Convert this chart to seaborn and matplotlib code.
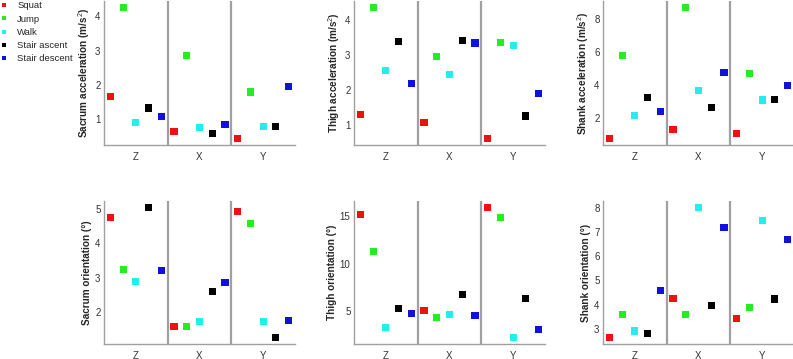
import numpy as np
import pandas as pd
import matplotlib
matplotlib.use('Agg')
import matplotlib.pyplot as plt
from matplotlib.ticker import MultipleLocator
import seaborn as sns

activities = ['Squat', 'Jump', 'Walk', 'Stair ascent', 'Stair descent']
axes_names = ['Z', 'X', 'Y']

# values per activity, ordered Z, X, Y
sacrum_acc = {'Squat': [1.66, 0.64, 0.43], 'Jump': [4.26, 2.87, 1.79], 'Walk': [0.91, 0.74, 0.79],
              'Stair ascent': [1.32, 0.57, 0.79], 'Stair descent': [1.08, 0.83, 1.94]}
thigh_acc = {'Squat': [1.31, 1.09, 0.63], 'Jump': [4.36, 2.96, 3.37], 'Walk': [2.57, 2.44, 3.27],
             'Stair ascent': [3.39, 3.42, 1.27], 'Stair descent': [2.19, 3.35, 1.90]}
shank_acc = {'Squat': [0.79, 1.35, 1.09], 'Jump': [5.78, 8.68, 4.68], 'Walk': [2.16, 3.66, 3.11],
             'Stair ascent': [3.27, 2.66, 3.15], 'Stair descent': [2.40, 4.79, 4.00]}
sacrum_ori = {'Squat': [4.75, 1.58, 4.91], 'Jump': [3.23, 1.59, 4.56], 'Walk': [2.88, 1.74, 1.74],
              'Stair ascent': [5.03, 2.61, 1.27], 'Stair descent': [3.20, 2.87, 1.77]}
thigh_ori = {'Squat': [15.2, 5.03, 15.95], 'Jump': [11.27, 4.33, 14.85], 'Walk': [3.28, 4.58, 2.18],
             'Stair ascent': [5.24, 6.69, 6.32], 'Stair descent': [4.71, 4.54, 2.99]}
shank_ori = {'Squat': [2.63, 4.26, 3.41], 'Jump': [3.57, 3.60, 3.89], 'Walk': [2.90, 8.03, 7.50],
             'Stair ascent': [2.81, 3.97, 4.23], 'Stair descent': [4.60, 7.19, 6.69]}

panels = [
    (sacrum_acc, 'Sacrum acceleration (m/s$^2$)', 1),
    (thigh_acc, 'Thigh acceleration (m/s$^2$)', 1),
    (shank_acc, 'Shank acceleration (m/s$^2$)', 2),
    (sacrum_ori, 'Sacrum orientation (°)', 1),
    (thigh_ori, 'Thigh orientation (°)', 5),
    (shank_ori, 'Shank orientation (°)', 1),
]

palette = {'Squat': '#ee1111', 'Jump': '#22ee22', 'Walk': '#22eeee',
           'Stair ascent': '#000000', 'Stair descent': '#1111dd'}

sns.set_style('white')
plt.rcParams['font.family'] = ['Liberation Sans', 'DejaVu Sans']
plt.rcParams['mathtext.fontset'] = 'custom'
plt.rcParams['mathtext.rm'] = 'Liberation Sans'
plt.rcParams['mathtext.bf'] = 'Liberation Sans:bold'

fig = plt.figure(figsize=(7.93, 3.59), dpi=100)
lefts = [104 / 793, 354 / 793, 603 / 793]
w = 191 / 793
rows = [(1 - 145 / 359, 144 / 359), (1 - 344 / 359, 143 / 359)]

offsets = {a: -0.4 + 0.2 * i for i, a in enumerate(activities)}

for k, (vals, label, step) in enumerate(panels):
    b, h = rows[k // 3]
    ax = fig.add_axes([lefts[k % 3], b, w, h])
    df = pd.DataFrame([
        {'activity': a, 'pos': j + 1 + offsets[a], 'value': vals[a][j]}
        for a in activities for j in range(3)
    ])
    sns.scatterplot(data=df, x='pos', y='value', hue='activity', hue_order=activities,
                    palette=palette, marker='s', s=26, linewidth=0, ax=ax,
                    legend=(k == 0))
    for xv in [1.5, 2.5]:
        ax.axvline(xv, color='#a0a0a0', lw=1.6, zorder=0)
    ax.set_xlim(0.5, 3.5)
    ax.set_xticks([1, 2, 3])
    ax.set_xticklabels(axes_names)
    ax.yaxis.set_major_locator(MultipleLocator(step))
    ax.set_xlabel('')
    ax.set_ylabel(label, fontsize=7.2, fontweight='bold', color='#262626', labelpad=2)
    sns.despine(ax=ax)
    for sp in ['left', 'bottom']:
        ax.spines[sp].set_color('#a0a0a0')
        ax.spines[sp].set_linewidth(1.0)
    ax.tick_params(direction='in', length=2.5, width=0.8, color='#a0a0a0',
                   labelsize=7, labelcolor='#333333', pad=2.5)
    ax.tick_params(axis='x', pad=5)
    if k == 0:
        handles, labels = ax.get_legend_handles_labels()
        ax.get_legend().remove()
        fig.legend(handles, labels, loc='upper left', bbox_to_anchor=(-0.014, 1.02),
                   frameon=False, fontsize=6.8, markerscale=0.55, handletextpad=0.7,
                   labelspacing=0.45, handlelength=1.4)

fig.savefig('out.png', dpi=100)
